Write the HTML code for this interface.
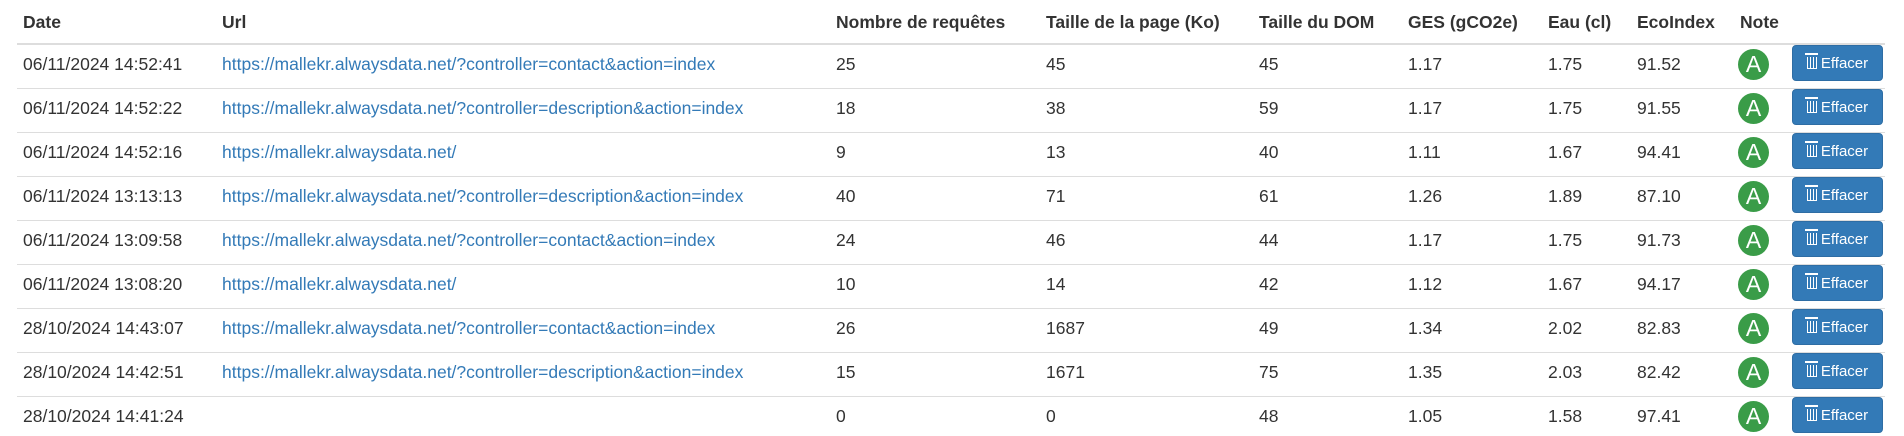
<!DOCTYPE html>
<html><head><meta charset="utf-8">
<style>
body{margin:0;width:1904px;height:436px;background:#fff;overflow:hidden;font-family:"Liberation Sans",Arial,sans-serif;font-size:17.5px;color:#333;position:relative}
.c{position:absolute;white-space:nowrap;line-height:20px}
.h{font-weight:bold;top:12px}
a{color:#337ab7;text-decoration:none}
.sep{position:absolute;left:17px;width:1868px;height:1px;background:#ddd}
.badge{position:absolute;width:31px;height:31px;border-radius:50%;background:#3a9c48;color:#fff;font-size:23px;line-height:31px;text-align:center}
.btn{position:absolute;left:1792px;width:91px;height:36px;background:#337ab7;border:1px solid #2e6da4;border-radius:4px;color:#fff;font-size:15px;line-height:36px;text-align:center;box-sizing:border-box}
.trash{display:inline-block;width:10px;height:12px;border:1.5px solid #fff;border-top:none;box-sizing:border-box;position:relative;margin-right:4px;vertical-align:-1px;background:repeating-linear-gradient(90deg,transparent 0 2px,#fff 2px 3px)}
.trash:before{content:"";position:absolute;left:-3px;top:-4px;width:13px;height:2px;background:#fff}
</style></head><body>
<div id="t"></div>
<script>
const dates=["06/11/2024 14:52:41","06/11/2024 14:52:22","06/11/2024 14:52:16","06/11/2024 13:13:13","06/11/2024 13:09:58","06/11/2024 13:08:20","28/10/2024 14:43:07","28/10/2024 14:42:51","28/10/2024 14:41:24"];
const urls=["https://mallekr.alwaysdata.net/?controller=contact&action=index","https://mallekr.alwaysdata.net/?controller=description&action=index","https://mallekr.alwaysdata.net/","https://mallekr.alwaysdata.net/?controller=description&action=index","https://mallekr.alwaysdata.net/?controller=contact&action=index","https://mallekr.alwaysdata.net/","https://mallekr.alwaysdata.net/?controller=contact&action=index","https://mallekr.alwaysdata.net/?controller=description&action=index",""];
const requests=["25","18","9","40","24","10","26","15","0"];
const pageSizes=["45","38","13","71","46","14","1687","1671","0"];
const domSizes=["45","59","40","61","44","42","49","75","48"];
const ges=["1.17","1.17","1.11","1.26","1.17","1.12","1.34","1.35","1.05"];
const water=["1.75","1.75","1.67","1.89","1.75","1.67","2.02","2.03","1.58"];
const eco=["91.52","91.55","94.41","87.10","91.73","94.17","82.83","82.42","97.41"];
const notes=["A","A","A","A","A","A","A","A","A"];
const headers=["Date","Url","Nombre de requêtes","Taille de la page (Ko)","Taille du DOM","GES (gCO2e)","Eau (cl)","EcoIndex","Note"];
const colX=[23,222,836,1046,1259,1408,1548,1637,1740];
const t=document.getElementById('t');
headers.forEach((h,i)=>{const d=document.createElement('div');d.className='c h';d.style.left=colX[i]+'px';d.textContent=h;

t.appendChild(d);});
const hl=document.createElement('div');hl.className='sep';hl.style.top='43px';hl.style.height='2px';

t.appendChild(hl);
const cols=[dates,urls,requests,pageSizes,domSizes,ges,water,eco];
dates.forEach((_,r)=>{const top=44+44*r;
 if(r>0){const s=document.createElement('div');s.className='sep';s.style.top=top+'px';
 
 t.appendChild(s);}
 cols.forEach((arr,c)=>{let d;
  if(c===1){d=document.createElement('a');d.href='#';d.className='c';
   
   }
  else{d=document.createElement('div');d.className='c';
   
   }
  d.style.left=colX[c]+'px';d.style.top=(top+10)+'px';d.textContent=arr[r];t.appendChild(d);});
 const b=document.createElement('div');b.className='badge';b.style.left='1738px';b.style.top=(top+5)+'px';b.textContent=notes[r];
 
 t.appendChild(b);
 const btn=document.createElement('div');btn.className='btn';btn.style.top=(top+1)+'px';btn.innerHTML='<span class="trash"></span>Effacer';
 
 t.appendChild(btn);
});
</script>
</body></html>
